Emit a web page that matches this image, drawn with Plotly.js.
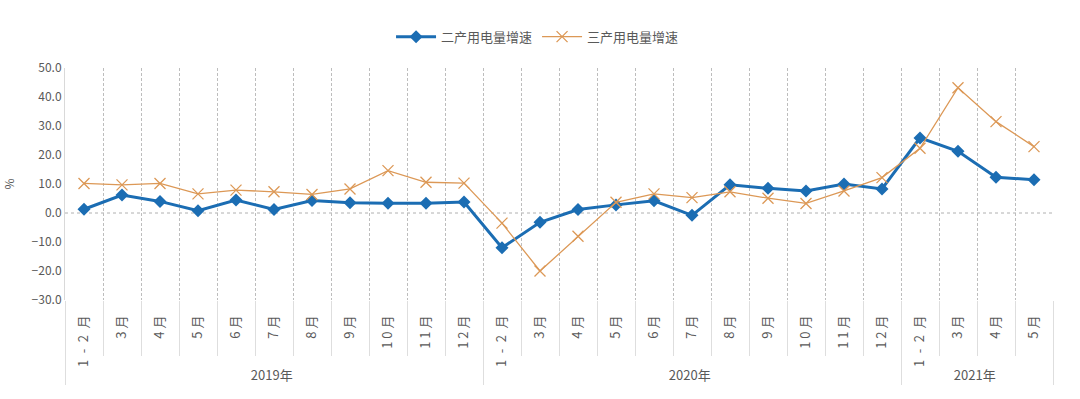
<!DOCTYPE html>
<html><head><meta charset="utf-8">
<script src="https://cdn.plot.ly/plotly-3.0.1.min.js"></script>
<style>html,body{margin:0;padding:0;background:#fff;}#chart{width:1080px;height:399px;}</style>
</head><body><div id="chart"></div>
<script>
const years = ["2019年","2019年","2019年","2019年","2019年","2019年","2019年","2019年","2019年","2019年","2019年",
               "2020年","2020年","2020年","2020年","2020年","2020年","2020年","2020年","2020年","2020年","2020年",
               "2021年","2021年","2021年","2021年"];
const months = ["1\u2002-\u20022\u2002月","3 月","4 月","5 月","6 月","7 月","8 月","9 月","1 0 月","1 1 月","1 2 月",
                "1\u2002-\u20022\u2002月","3 月","4 月","5 月","6 月","7 月","8 月","9 月","1 0 月","1 1 月","1 2 月",
                "1\u2002-\u20022\u2002月","3 月","4 月","5 月"];
const secondary = [1.3,6.2,4.0,0.8,4.5,1.2,4.3,3.5,3.4,3.4,3.8,
                   -12.0,-3.2,1.2,2.8,4.2,-0.8,9.7,8.5,7.6,10.0,8.3,
                   25.9,21.3,12.3,11.5];
const tertiary = [10.2,9.7,10.2,6.6,7.9,7.3,6.4,8.3,14.6,10.6,10.3,
                  -3.5,-20.0,-8.0,3.7,6.6,5.3,7.3,5.1,3.3,7.6,12.2,
                  22.3,43.2,31.5,22.9];
const names = ["二产用电量增速","三产用电量增速"];

const font = "'Noto Sans CJK SC','Microsoft YaHei',sans-serif";
const data = [
  {x:[years,months], y:secondary, name:names[0], type:"scatter", mode:"lines+markers",
   line:{color:"#1b6db3", width:3}, marker:{symbol:"diamond", size:10, color:"#1b6db3"}},
  {x:[years,months], y:tertiary, name:names[1], type:"scatter", mode:"lines+markers",
   line:{color:"#dc9856", width:1.3}, marker:{symbol:"x-thin-open", size:11, line:{color:"#dc9856", width:1.3}}}
];
const layout = {
  width:1080, height:399,
  margin:{l:65, r:27, t:68, b:99},
  paper_bgcolor:"#fff", plot_bgcolor:"#fff",
  font:{family:font, color:"#595959", size:12},
  showlegend:true,
  legend:{orientation:"h", x:0.33, xanchor:"left", y:1.135, yanchor:"middle",
          font:{size:13, color:"#595959"}, itemwidth:40, traceorder:"normal"},
  xaxis:{type:"multicategory", range:[-0.5, months.length-0.5], autorange:false,
         tickson:"boundaries", showgrid:true, gridcolor:"#bdbdbd",
         griddash:"3px,2px", gridwidth:1, ticks:"outside", ticklen:55, tickcolor:"#dedede",
         tickangle:-90, ticklabelstandoff:12, tickfont:{size:13, color:"#595959"}, showline:false, zeroline:false,
         showdividers:true, dividercolor:"#dedede", dividerwidth:1},
  yaxis:{range:[-30,50], dtick:10, tickformat:".1f", showgrid:false, zeroline:false,
         showline:true, linecolor:"#d9d9d9", linewidth:1, ticks:"", tickfont:{size:12, color:"#595959"},
         title:{text:"%", font:{size:12, color:"#595959"}, standoff:14}},
  shapes:[{type:"line", xref:"paper", x0:0, x1:1, yref:"y", y0:0, y1:0,
           line:{color:"#b0b0b0", width:1, dash:"dot"}, layer:"below"}]
};
Plotly.newPlot("chart", data, layout, {displayModeBar:false, staticPlot:true});
</script></body></html>
